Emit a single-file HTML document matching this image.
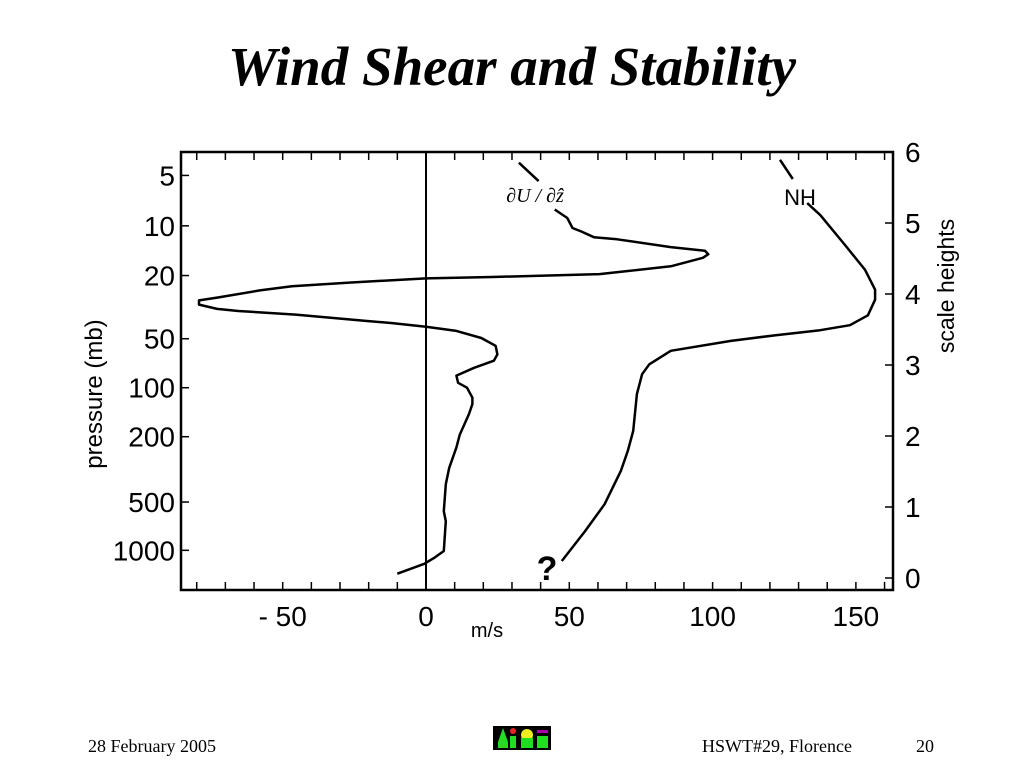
<!DOCTYPE html>
<html><head><meta charset="utf-8"><style>
body{margin:0;width:1024px;height:768px;background:#fff;overflow:hidden;font-family:"Liberation Sans",sans-serif}
</style></head><body>
<svg width="1024" height="768" viewBox="0 0 1024 768">
<text x="512" y="85" text-anchor="middle" font-family="Liberation Serif" font-weight="bold" font-style="italic" font-size="55">Wind Shear and Stability</text>
<g id="chart"></g>
<text x="88" y="752" font-family="Liberation Serif" font-size="18">28 February 2005</text>
<g>
<rect x="493" y="726" width="58" height="24" fill="#000"/>
<polygon points="498,742 503,728 508,742" fill="#22dd22"/><rect x="498" y="742" width="10" height="6" fill="#22dd22"/>
<circle cx="513" cy="731" r="3" fill="#e22"/><rect x="510" y="736" width="6" height="12" fill="#22dd22"/>
<circle cx="527" cy="735" r="6" fill="#ee2"/><rect x="521" y="738" width="12" height="10" fill="#22dd22"/>
<rect x="537" y="730" width="11" height="3" fill="#a0a"/><rect x="537" y="736" width="11" height="12" fill="#22dd22"/>
</g>
<text x="702" y="752" font-family="Liberation Serif" font-size="18">HSWT#29, Florence</text>
<text x="916" y="752" font-family="Liberation Serif" font-size="18">20</text>
</svg>
<script>
// x: m/s, y: scale heights
const xTicks=[-50,0,50,100,150];
const xTickLabels=["- 50","0","50","100","150"];
const hTicks=[0,1,2,3,4,5,6];
const pTicks=[5,10,20,50,100,200,500,1000];
const pTickH=[5.67,4.96,4.26,3.37,2.68,1.99,1.07,0.39];
const shearU=[32.4,39.3,null,44.9,49.3,51.1,54.2,58.6,66.7,85.4,97.3,98.5,96.6,85.4,60.5,23.1,0,-26.8,-46.8,-58.0,-72.9,-79.2,-79.2,-72.9,-65.5,-45.5,-20.6,-11.8,0,10.6,19.3,24.3,24.9,23.7,16.8,10.6,11.2,14.3,16.2,16.2,15.0,11.8,10.6,8.1,6.9,6.2,6.9,6.2,3.1,-0.6,-10.0];
const shearH=[5.85,5.59,null,5.19,5.07,4.93,4.88,4.80,4.77,4.66,4.61,4.56,4.51,4.39,4.28,4.24,4.22,4.16,4.11,4.05,3.95,3.91,3.85,3.79,3.76,3.71,3.62,3.59,3.54,3.48,3.38,3.27,3.15,3.06,2.96,2.85,2.75,2.68,2.54,2.45,2.31,2.02,1.84,1.55,1.32,0.94,0.80,0.38,0.29,0.20,0.06];
const nhU=[123.5,128,null,133,137.6,146.2,153.2,156.7,156.7,154.2,147.9,137.5,122,106.4,85.4,77.9,75.4,73.6,72.3,70.4,68.0,62.3,55.5,47.4];
const nhH=[5.89,5.62,null,5.28,5.11,4.69,4.34,4.06,3.92,3.70,3.56,3.49,3.42,3.34,3.20,3.01,2.87,2.59,2.07,1.79,1.51,1.04,0.66,0.24];
const L=181,R=893,T=152,B=590;
const X=v=>426+v*2.866, Y=h=>578-h*71;
const NS='http://www.w3.org/2000/svg', g=document.getElementById('chart');
function mk(t,a,txt){const e=document.createElementNS(NS,t);for(const k in a)e.setAttribute(k,a[k]);if(txt!=null)e.textContent=txt;g.appendChild(e);return e;}
let e=mk('rect',{x:L,y:T,width:R-L,height:B-T,fill:'none',stroke:'#000','stroke-width':2.5});


for(let v=-80;v<=160;v+=10){
 e=mk('path',{d:`M${X(v)},${T}v8M${X(v)},${B}v-8`,stroke:'#000','stroke-width':1.5});
 
 
}
xTicks.forEach((v,i)=>{
 e=mk('text',{x:X(v),y:626,'text-anchor':'middle','font-size':28},xTickLabels[i]);
 
 
});
e=mk('text',{x:487,y:637,'text-anchor':'middle','font-size':20},'m/s');


hTicks.forEach(h=>{
 e=mk('path',{d:`M${R},${Y(h)}h-8`,stroke:'#000','stroke-width':1.5});
 
 
 e=mk('text',{x:905,y:Y(h)+10,'font-size':28},String(h));
 
 
});
pTicks.forEach((p,i)=>{
 const y=Y(pTickH[i]);
 e=mk('path',{d:`M${L},${y}h8`,stroke:'#000','stroke-width':1.5});
 
 
 e=mk('text',{x:175,y:y+10,'text-anchor':'end','font-size':28},String(p));
 
 
});
e=mk('text',{x:0,y:0,transform:'translate(102,394) rotate(-90)','text-anchor':'middle','font-size':24},'pressure (mb)');


e=mk('text',{x:0,y:0,transform:'translate(954,286) rotate(-90)','text-anchor':'middle','font-size':23},'scale heights');


e=mk('line',{x1:X(0),y1:T,x2:X(0),y2:B,stroke:'#000','stroke-width':2});


function path(us,hs){let d='',m=true;us.forEach((u,i)=>{if(u==null){m=true;return;}d+=(m?'M':'L')+X(u).toFixed(1)+','+Y(hs[i]).toFixed(1);m=false;});return d;}
e=mk('path',{d:path(shearU,shearH),fill:'none',stroke:'#000','stroke-width':2.5,'stroke-linejoin':'round'});


e=mk('path',{d:path(nhU,nhH),fill:'none',stroke:'#000','stroke-width':2.5,'stroke-linejoin':'round'});


e=mk('text',{x:535,y:202,'text-anchor':'middle','font-size':20,'font-style':'italic','font-family':'Liberation Serif'},'∂U / ∂ẑ');


e=mk('text',{x:800,y:205,'text-anchor':'middle','font-size':22},'NH');


e=mk('text',{x:547,y:580,'text-anchor':'middle','font-size':34,'font-weight':'bold'},'?');


</script>
</body></html>
